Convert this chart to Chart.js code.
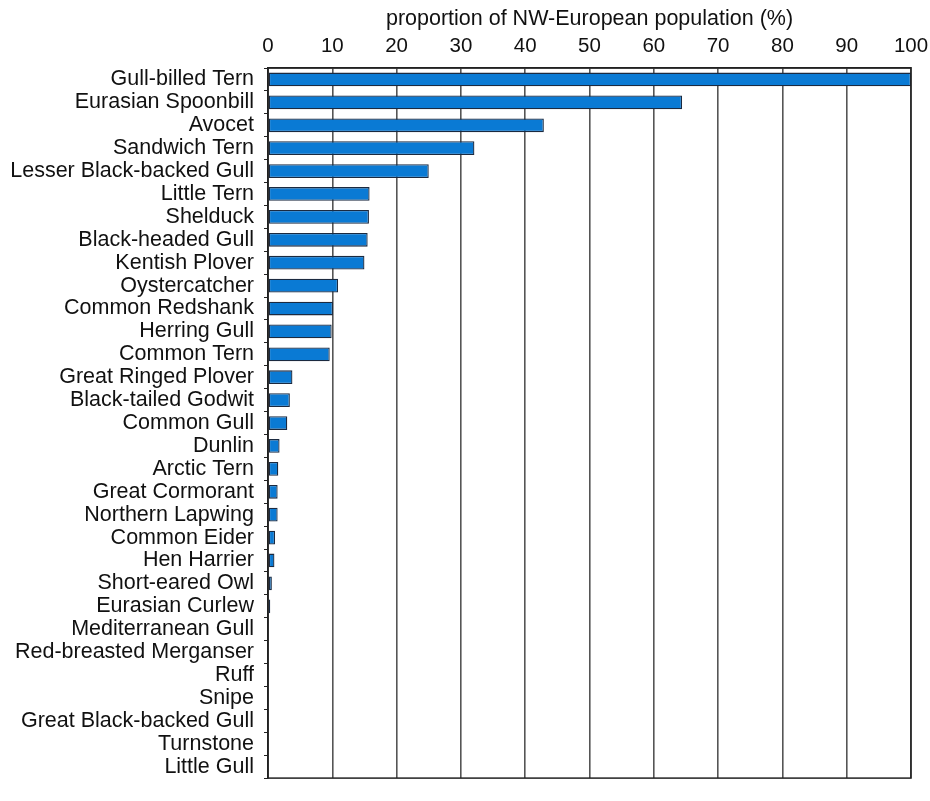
<!DOCTYPE html>
<html>
<head>
<meta charset="utf-8">
<script src="https://cdn.jsdelivr.net/npm/chart.js@4.4.0/dist/chart.umd.min.js"></script>
<style>
  html, body { margin: 0; padding: 0; background: #ffffff; }
  #wrap { width: 930px; height: 801px; }
</style>
</head>
<body>
<div id="wrap"><canvas id="c" width="930" height="801"></canvas></div>
<script>
const species = [
  "Gull-billed Tern", "Eurasian Spoonbill", "Avocet", "Sandwich Tern",
  "Lesser Black-backed Gull", "Little Tern", "Shelduck", "Black-headed Gull",
  "Kentish Plover", "Oystercatcher", "Common Redshank", "Herring Gull",
  "Common Tern", "Great Ringed Plover", "Black-tailed Godwit", "Common Gull",
  "Dunlin", "Arctic Tern", "Great Cormorant", "Northern Lapwing",
  "Common Eider", "Hen Harrier", "Short-eared Owl", "Eurasian Curlew",
  "Mediterranean Gull", "Red-breasted Merganser", "Ruff", "Snipe",
  "Great Black-backed Gull", "Turnstone", "Little Gull"
];
const proportion = [
  100, 64.4, 42.9, 32.1,
  25.0, 15.8, 15.7, 15.5,
  15.0, 10.9, 10.1, 9.9,
  9.6, 3.8, 3.4, 3.0,
  1.8, 1.6, 1.5, 1.5,
  1.1, 1.0, 0.6, 0.35,
  0, 0, 0, 0,
  0, 0, 0
];
const xTicks = [0, 10, 20, 30, 40, 50, 60, 70, 80, 90, 100];
const axisTitle = "proportion of NW-European population (%)";

const FONT = "'Liberation Sans', Arial, Helvetica, sans-serif";

const frame = {
  id: 'frame',
  afterDatasetsDraw(chart) {
    const a = chart.chartArea, ctx = chart.ctx;
    ctx.save();
    ctx.strokeStyle = '#222';
    ctx.lineWidth = 1.5;
    ctx.strokeRect(a.left, a.top, a.right - a.left, a.bottom - a.top);
    ctx.restore();
  }
};

new Chart(document.getElementById('c'), {
  type: 'bar',
  data: {
    labels: species,
    datasets: [{
      data: proportion,
      backgroundColor: '#0a7ad4',
      borderColor: '#1b2a40',
      borderWidth: 1.3,
      borderSkipped: false,
      barPercentage: 0.6,
      categoryPercentage: 1.0
    }]
  },
  options: {
    indexAxis: 'y',
    responsive: false,
    animation: false,
    devicePixelRatio: 1,
    layout: { padding: { left: 0, right: 19, top: 0, bottom: 4 } },
    plugins: { legend: { display: false }, tooltip: { enabled: false } },
    scales: {
      x: {
        position: 'top',
        min: 0, max: 100,
        afterFit(s) { s.height = 68; s.paddingRight = 0; s.paddingLeft = 0; },
        afterBuildTicks(s) { s.ticks = xTicks.map(v => ({ value: v })); },
        grid: { color: '#555', lineWidth: 1.6, drawTicks: false },
        border: { display: true, color: '#222', width: 1.5 },
        ticks: { color: '#111', font: { family: FONT, size: 20.5 }, padding: 9 },
        title: { display: true, text: axisTitle, color: '#111',
                 font: { family: FONT, size: 21.5 }, padding: { top: 6, bottom: 0 } }
      },
      y: {
        afterFit(s) { s.width = 268; },
        grid: { display: true, drawOnChartArea: false, drawTicks: true, tickLength: 4,
                color: '#222', lineWidth: 1 },
        border: { display: true, color: '#222', width: 1.5 },
        ticks: { color: '#111', font: { family: FONT, size: 21.5 }, padding: 10, autoSkip: false }
      }
    }
  },
  plugins: [frame]
});
</script>
</body>
</html>
